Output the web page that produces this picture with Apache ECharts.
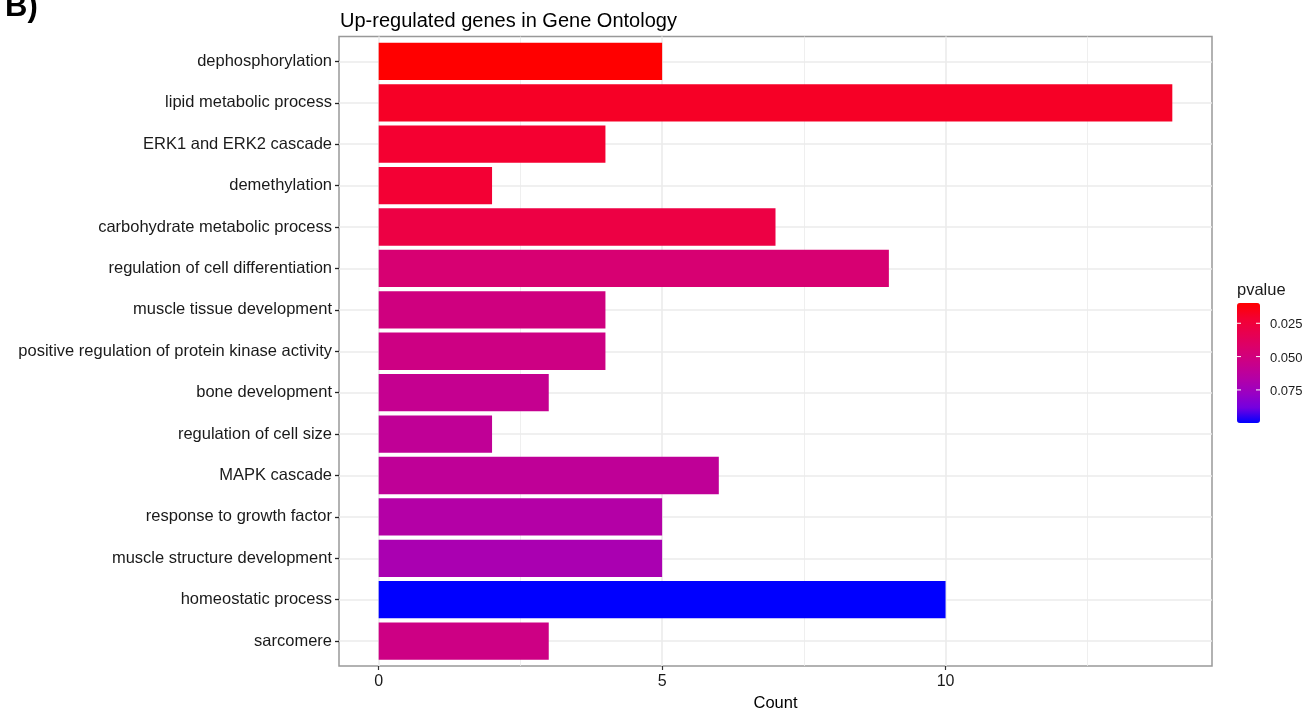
<!DOCTYPE html>
<html>
<head>
<meta charset="utf-8">
<script src="https://cdn.jsdelivr.net/npm/echarts@6/dist/echarts.min.js"></script>
<style>
  html, body { margin: 0; padding: 0; background: #fff; }
  #main { width: 1316px; height: 711px; }
</style>
</head>
<body>
<div id="main"></div>
<script>
// GO terms, top to bottom
var terms = [
  'dephosphorylation',
  'lipid metabolic process',
  'ERK1 and ERK2 cascade',
  'demethylation',
  'carbohydrate metabolic process',
  'regulation of cell differentiation',
  'muscle tissue development',
  'positive regulation of protein kinase activity',
  'bone development',
  'regulation of cell size',
  'MAPK cascade',
  'response to growth factor',
  'muscle structure development',
  'homeostatic process',
  'sarcomere'
];
var counts = [5, 14, 4, 2, 7, 9, 4, 4, 3, 2, 6, 5, 5, 10, 3];
var pvalues = [0.0098, 0.0185, 0.021, 0.022, 0.028, 0.046, 0.051, 0.0525, 0.0575, 0.060, 0.0605, 0.0665, 0.0706, 0.0998, 0.053];

var xTicks = [0, 5, 10];
var xMinor = [2.5, 7.5, 12.5];
var legendTicks = [0.025, 0.050, 0.075];

// red -> blue, interpolated in Lab like ggplot
var gradient = ['#FF0000', '#F40031', '#E8004F', '#DA006C', '#CA0089', '#B500A5', '#9A00C3', '#7300E0', '#0000FF'];

var pMin = Math.min.apply(null, pvalues);
var pMax = Math.max.apply(null, pvalues);

//面板位置
var panel = { left: 339, top: 36.5, width: 873, height: 629.5 };
var xMin = -0.7, xMax = 14.7;

// y 轴: 第 i 项在 i+1 处 (ggplot 离散轴)
var rowPos = terms.map(function (t, i) { return i + 1; });

var barData = counts.map(function (c, i) {
  return [c, rowPos[i], pvalues[i]];
});

var gridLines = [];
xTicks.forEach(function (v) { gridLines.push({ xAxis: v, lineStyle: { width: 1.6 } }); });
xMinor.forEach(function (v) { gridLines.push({ xAxis: v, lineStyle: { width: 0.8 } }); });
rowPos.forEach(function (v) { gridLines.push({ yAxis: v, lineStyle: { width: 1.6 } }); });

//色条
var bar = { left: 1237, top: 303, width: 23, height: 120 };
var legendGraphics = [
  {
    type: 'text', left: 1237, top: 282,
    style: { text: 'pvalue', fontSize: 16.5, fontFamily: 'Liberation Sans', fill: '#1a1a1a' }
  }
];
legendTicks.forEach(function (v) {
  var y = bar.top + (v - pMin) / (pMax - pMin) * bar.height;
  legendGraphics.push({
    type: 'text', left: 1270, top: y - 5,
    style: { text: v.toFixed(3), fontSize: 13, fontFamily: 'Liberation Sans', fill: '#1a1a1a' },
    z: 10
  });
  legendGraphics.push({
    type: 'line', shape: { x1: bar.left, y1: y, x2: bar.left + 4, y2: y },
    style: { stroke: '#fff', lineWidth: 1 }, z: 10
  });
  legendGraphics.push({
    type: 'line', shape: { x1: bar.left + bar.width - 4, y1: y, x2: bar.left + bar.width, y2: y },
    style: { stroke: '#fff', lineWidth: 1 }, z: 10
  });
});

//画横向柱子
function renderBar(params, api) {
  var y = api.value(1);
  var start = api.coord([0, y]);
  var end = api.coord([api.value(0), y]);
  var h = api.size([0, 0.9])[1];
  return {
    type: 'rect',
    shape: { x: start[0], y: start[1] - h / 2, width: end[0] - start[0], height: h },
    style: { fill: api.visual('color') }
  };
}

var chart = echarts.init(document.getElementById('main'), null, { renderer: 'canvas' });

var option = {
  backgroundColor: '#fff',
  animation: false,
  textStyle: { fontFamily: 'Liberation Sans' },
  title: [
    {
      text: 'Up-regulated genes in Gene Ontology',
      left: 340, top: 11, padding: 0,
      textStyle: { fontSize: 20, fontWeight: 'normal', color: '#000', fontFamily: 'Liberation Sans' }
    },
    {
      text: 'B)',
      left: 5, top: -8, padding: 0,
      textStyle: { fontSize: 31, fontWeight: 'bold', color: '#000', fontFamily: 'Liberation Sans' }
    }
  ],
  grid: {
    left: panel.left, top: panel.top, width: panel.width, height: panel.height,
    show: true, borderColor: '#999', borderWidth: 1.5, backgroundColor: 'transparent',
    containLabel: false, outerBoundsMode: 'none'
  },
  xAxis: {
    type: 'value', min: xMin, max: xMax, splitNumber: 3,
    axisLine: { show: false, onZero: false },
    axisTick: { show: true, length: 4, lineStyle: { color: '#333', width: 1.2 }, customValues: xTicks },
    axisLabel: { customValues: xTicks, fontSize: 16, color: '#1a1a1a', margin: 8 },
    splitLine: { show: false },
    name: 'Count', nameLocation: 'middle', nameGap: 29,
    nameTextStyle: { fontSize: 16.5, color: '#000' }
  },
  yAxis: {
    type: 'value', inverse: true, min: 0.4, max: terms.length + 0.6,
    axisLine: { show: false, onZero: false },
    axisTick: { show: true, length: 4, lineStyle: { color: '#222', width: 1.3 }, customValues: rowPos },
    axisLabel: {
      customValues: rowPos, fontSize: 16.5, color: '#1a1a1a', margin: 7,
      formatter: function (v) { return terms[Math.round(v) - 1]; }
    },
    splitLine: { show: false }
  },
  visualMap: {
    type: 'continuous',
    seriesIndex: 1,
    dimension: 2,
    min: pMin, max: pMax,
    inverse: true,
    calculable: false,
    left: bar.left, top: bar.top,
    itemWidth: bar.width, itemHeight: bar.height,
    padding: 0,
    text: null,
    inRange: { color: gradient }
  },
  graphic: legendGraphics,
  series: [
    {
      // 网格线
      type: 'scatter', data: [], silent: true, z: 1,
      markLine: {
        silent: true, symbol: 'none', animation: false, z: 1,
        label: { show: false },
        lineStyle: { color: '#EBEBEB', type: 'solid' },
        data: gridLines
      }
    },
    {
      type: 'custom', z: 3,
      renderItem: renderBar,
      encode: { x: 0, y: 1 },
      data: barData
    }
  ]
};

chart.setOption(option);
</script>
</body>
</html>
